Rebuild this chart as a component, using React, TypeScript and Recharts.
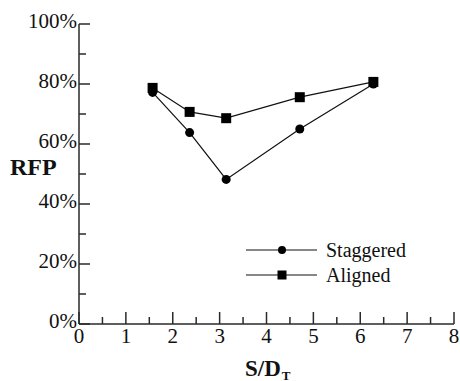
import React from "react";
import { LineChart, Line, XAxis, YAxis, Legend } from "recharts";

// S/D_T spacing values and RFP (%)
const sOverD = [1.57, 2.36, 3.14, 4.71, 6.28];
const staggered = [77.2, 63.8, 48.2, 65.0, 80.0];
const aligned = [78.7, 70.7, 68.6, 75.6, 80.7];

const xTicks = [0, 0.5, 1, 1.5, 2, 2.5, 3, 3.5, 4, 4.5, 5, 5.5, 6, 6.5, 7, 7.5, 8];
const yTicks = [0, 10, 20, 30, 40, 50, 60, 70, 80, 90, 100];
const seriesOrder = ["staggered", "aligned"];

const data = sOverD.map((x, i) => ({ x, staggered: staggered[i], aligned: aligned[i] }));

const FONT = "'Liberation Serif', 'DejaVu Serif', serif";
const AXIS = "#2a2a2a";
const INK = "#111";
const txt: React.CSSProperties = { fontFamily: FONT };

// ── Ticks (drawn inward, majors labelled) ───────────────────────────────────────

function YTick({ x, y, payload, side }: any) {
  const v = payload.value;
  const major = v % 20 === 0;
  const len = major ? 11 : 7;
  const dir = side === "left" ? 1 : -1;
  return (
    <g>
      <line x1={x} x2={x + dir * len} y1={y} y2={y} stroke={AXIS} strokeWidth={1.5} />
      {side === "left" && major && (
        <text x={x - 2} y={y + 4} textAnchor="end" style={txt} fontSize={21} fill={INK}>
          {v}%
        </text>
      )}
    </g>
  );
}

function XTick({ x, y, payload, side }: any) {
  const v = payload.value;
  const major = Number.isInteger(v);
  const len = major ? 12 : 7;
  const dir = side === "bottom" ? -1 : 1;
  return (
    <g>
      <line x1={x} x2={x} y1={y} y2={y + dir * len} stroke={AXIS} strokeWidth={1.5} />
      {side === "bottom" && major && (
        <text x={x} y={y + 19} textAnchor="middle" style={txt} fontSize={21} fill={INK}>
          {v}
        </text>
      )}
    </g>
  );
}

// ── Legend ─────────────────────────────────────────────────────────────────────

function LegendContent({ payload }: any) {
  const items = [...(payload ?? [])].sort(
    (a: any, b: any) => seriesOrder.indexOf(a.dataKey) - seriesOrder.indexOf(b.dataKey)
  );
  return (
    <svg width={180} height={52} style={{ display: "block" }}>
      {items.map((entry: any, i: number) => {
        const cy = 12 + i * 25;
        const square = entry.dataKey === "aligned";
        return (
          <g key={i}>
            <line x1={0} x2={71} y1={cy} y2={cy} stroke={INK} strokeWidth={1.2} />
            {square ? (
              <rect x={36 - 4.5} y={cy - 4.5} width={9} height={9} fill="#000" />
            ) : (
              <circle cx={36} cy={cy} r={4} fill="#000" />
            )}
            <text x={80} y={cy + 7} style={txt} fontSize={20} fill={INK}>
              {entry.value}
            </text>
          </g>
        );
      })}
    </svg>
  );
}

function SquareDot({ cx, cy }: any) {
  if (cx == null || cy == null) return null;
  return <rect x={cx - 5} y={cy - 5} width={10} height={10} fill="#000" />;
}

function YLabel(props: any) {
  const vb = props.viewBox ?? { x: 0, y: 24 };
  return (
    <text x={vb.x + 10} y={vb.y + 151} style={txt} fontSize={24} fontWeight={700} fill={INK}>
      RFP
    </text>
  );
}

function XLabel(props: any) {
  const vb = props.viewBox ?? { x: 79, y: 324 };
  return (
    <text x={vb.x + 166} y={vb.y + 52} style={txt} fontSize={23} fontWeight={700} fill={INK}>
      S/D
      <tspan fontSize={13} dy={4} dx={1}>
        T
      </tspan>
    </text>
  );
}

export default function App() {
  return (
    <div style={{ position: "absolute", left: 0, top: 0, width: 460, height: 381, background: "#fff" }}>
      <LineChart width={460} height={381} data={data} margin={{ top: 24, right: 6, left: 0, bottom: 0 }}>
        <XAxis
          dataKey="x"
          type="number"
          domain={[0, 8]}
          ticks={xTicks}
          interval={0}
          height={57}
          tickSize={0}
          tickMargin={0}
          tickLine={false}
          axisLine={{ stroke: AXIS, strokeWidth: 1.5 }}
          tick={(p: any) => <XTick {...p} side="bottom" />}
          label={{ content: XLabel }}
        />
        <XAxis
          xAxisId="top"
          orientation="top"
          dataKey="x"
          type="number"
          domain={[0, 8]}
          ticks={xTicks}
          interval={0}
          height={0}
          tickSize={0}
          tickMargin={0}
          tickLine={false}
          axisLine={{ stroke: AXIS, strokeWidth: 1.5 }}
          tick={(p: any) => <XTick {...p} side="top" />}
        />
        <YAxis
          type="number"
          domain={[0, 100]}
          ticks={yTicks}
          interval={0}
          width={79}
          tickSize={0}
          tickMargin={0}
          tickLine={false}
          axisLine={{ stroke: AXIS, strokeWidth: 1.5 }}
          tick={(p: any) => <YTick {...p} side="left" />}
          label={{ content: YLabel }}
        />
        <YAxis
          yAxisId="right"
          orientation="right"
          type="number"
          domain={[0, 100]}
          ticks={yTicks}
          interval={0}
          width={0}
          tickSize={0}
          tickMargin={0}
          tickLine={false}
          axisLine={{ stroke: AXIS, strokeWidth: 1.5 }}
          tick={(p: any) => <YTick {...p} side="right" />}
        />
        <Legend
          layout="vertical"
          align="center"
          verticalAlign="middle"
          content={LegendContent}
          wrapperStyle={{ left: 246, top: 238, width: 180 }}
        />
        <Line
          name="Staggered"
          dataKey="staggered"
          stroke={INK}
          strokeWidth={1.2}
          dot={{ r: 4.5, fill: "#000", stroke: "none" }}
          isAnimationActive={false}
        />
        <Line
          name="Aligned"
          dataKey="aligned"
          stroke={INK}
          strokeWidth={1.2}
          dot={(p: any) => <SquareDot key={p.index} {...p} />}
          isAnimationActive={false}
        />
      </LineChart>
    </div>
  );
}
